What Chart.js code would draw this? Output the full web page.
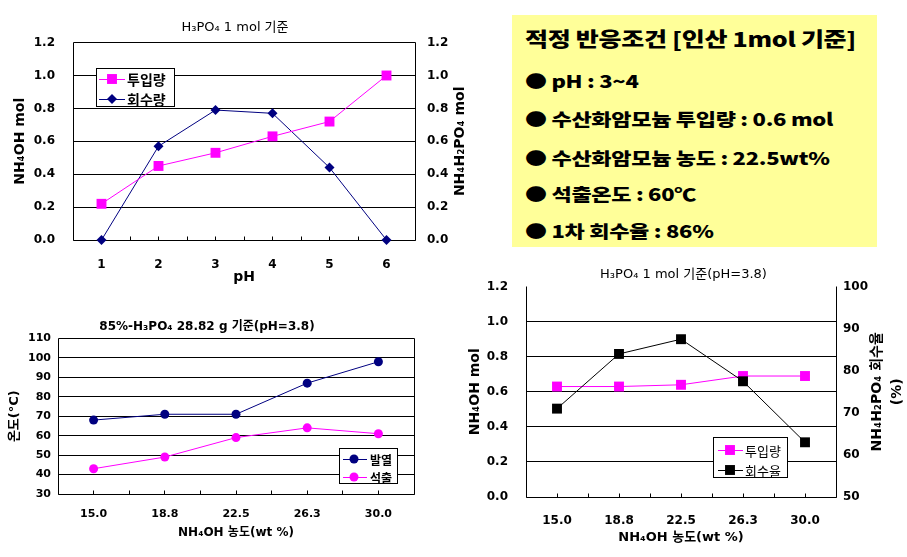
<!DOCTYPE html>
<html>
<head>
<meta charset="utf-8">
<script src="https://cdn.jsdelivr.net/npm/chart.js@4/dist/chart.umd.min.js"></script>
<style>
  body { margin: 0; background: #fff; width: 907px; height: 557px; position: relative; overflow: hidden; }
  canvas { position: absolute; }
  #box { position: absolute; left: 512px; top: 15px; width: 365px; height: 232px; background: #ffff99;
         font-family: 'Noto Sans CJK KR', sans-serif; font-weight: 900; color: #000; }
  #box div { position: absolute; left: 13px; height: 30px; line-height: 30px; white-space: nowrap; font-size: 22px;
             letter-spacing: -0.3px; transform: scaleY(0.8); transform-origin: left center; }
  #box .head { font-size: 25px; }
</style>
</head>
<body>
<canvas id="c1" width="470" height="290" style="left:0;top:0"></canvas>
<canvas id="c3" width="450" height="267" style="left:0;top:290px"></canvas>
<canvas id="c4" width="447" height="297" style="left:460px;top:260px"></canvas>
<div id="box">
  <div class="head" style="top:8px">적정 반응조건 [인산 1mol 기준]</div>
  <div style="top:50px">● pH : 3~4</div>
  <div style="top:88px">● 수산화암모늄 투입량 : 0.6 mol</div>
  <div style="top:127px">● 수산화암모늄 농도 : 22.5wt%</div>
  <div style="top:163px">● 석출온도 : 60℃</div>
  <div style="top:200px">● 1차 회수율 : 86%</div>
</div>
<script>
// chart 1: pH
const phLabels = ['1', '2', '3', '4', '5', '6']
const phInput = [0.22, 0.45, 0.53, 0.63, 0.72, 1.0]
const phRecovered = [0, 0.57, 0.79, 0.77, 0.44, 0]

// chart 3 + 4: NH4OH concentration
const concLabels = ['15.0', '18.8', '22.5', '26.3', '30.0']
const heatTemp = [68, 71, 71, 87, 98]
const precipTemp = [43, 49, 59, 64, 61]
const concInput = [0.63, 0.63, 0.64, 0.69, 0.69]
const recoveryRate = [71, 84, 87.5, 77.5, 63]

const FF = "'DejaVu Sans', 'Noto Sans CJK KR', sans-serif"
const KF = "'Noto Sans CJK KR', sans-serif"
const f = (size, bold) => ({ family: FF, size, weight: bold ? 'bold' : 'normal', lineHeight: 1.2 })
const align = p => Math.round(p - 0.5) + 0.5

function innerGrid(c) {
  return c.index > 0 && c.index < c.scale.ticks.length - 1 ? '#000' : 'rgba(0,0,0,0)'
}

function marker(ctx, style, x, y, r, color) {
  ctx.fillStyle = color
  ctx.beginPath()
  if (style === 'rect') {
    const s = r * Math.SQRT1_2
    ctx.rect(x - s, y - s, 2 * s, 2 * s)
  } else if (style === 'rectRot') {
    ctx.moveTo(x, y - r)
    ctx.lineTo(x + r, y)
    ctx.lineTo(x, y + r)
    ctx.lineTo(x - r, y)
    ctx.closePath()
  } else {
    ctx.arc(x, y, r, 0, Math.PI * 2)
  }
  ctx.fill()
}

const framePlugin = {
  id: 'frame',
  beforeDatasetsDraw(chart, args, opts) {
    const { ctx, chartArea: a } = chart
    const l = align(a.left), r = align(a.right), t = align(a.top), b = align(a.bottom)
    ctx.save()
    ctx.strokeStyle = '#000'
    ctx.lineWidth = 1
    ctx.beginPath()
    if (opts.sides.includes('left')) { ctx.moveTo(l, t); ctx.lineTo(l, b) }
    if (opts.sides.includes('right')) { ctx.moveTo(r, t); ctx.lineTo(r, b) }
    if (opts.sides.includes('top')) { ctx.moveTo(l, t); ctx.lineTo(r, t) }
    if (opts.sides.includes('bottom')) { ctx.moveTo(l, b); ctx.lineTo(r, b) }
    // small inward ticks on the category axis, at categories and between them
    const xs = chart.scales.x
    const n = xs.ticks.length
    for (let i = 0; i <= 2 * n; i++) {
      const x = align(a.left + (a.right - a.left) * i / (2 * n))
      ctx.moveTo(x, b)
      ctx.lineTo(x, b - 4)
    }
    ctx.stroke()
    ctx.restore()
  }
}

const legendPlugin = {
  id: 'boxLegend',
  afterDraw(chart, args, o) {
    const ctx = chart.ctx
    ctx.save()
    ctx.fillStyle = '#fff'
    ctx.fillRect(o.x, o.y, o.w, o.h)
    ctx.strokeStyle = '#000'
    ctx.lineWidth = 1
    ctx.strokeRect(o.x + 0.5, o.y + 0.5, o.w - 1, o.h - 1)
    chart.data.datasets.forEach((ds, i) => {
      const y = o.rows[i]
      ctx.strokeStyle = ds.borderColor
      ctx.beginPath()
      ctx.moveTo(o.lineX[0], y + 0.5)
      ctx.lineTo(o.lineX[1], y + 0.5)
      ctx.stroke()
      marker(ctx, ds.pointStyle, o.markerX, y, ds.pointRadius, ds.backgroundColor)
      ctx.fillStyle = '#000'
      ctx.font = o.font
      ctx.textAlign = 'left'
      ctx.textBaseline = 'middle'
      ctx.fillText(ds.label, o.textX, y + 1)
    })
    ctx.restore()
  }
}

const sideTitlePlugin = {
  id: 'sideTitle',
  afterDraw(chart, args, o) {
    const { ctx, chartArea: a } = chart
    const cy = (a.top + a.bottom) / 2
    ctx.save()
    ctx.fillStyle = '#000'
    ctx.font = o.font
    ctx.textAlign = 'center'
    ctx.textBaseline = 'middle'
    o.lines.forEach((t, i) => {
      ctx.save()
      ctx.translate(o.x[i], cy)
      ctx.rotate(-Math.PI / 2)
      ctx.fillText(t, 0, 0)
      ctx.restore()
    })
    ctx.restore()
  }
}

const base = { responsive: false, animation: false, devicePixelRatio: 1, layout: { padding: 0 } }

function xAxis(height, tickFont, tickPad, title, titleFont, titlePad) {
  return {
    offset: true,
    grid: { display: false },
    border: { display: false },
    ticks: { color: '#000', font: tickFont, padding: tickPad, maxRotation: 0 },
    title: { display: true, text: title, color: '#000', font: titleFont, padding: { top: 0, bottom: titlePad } },
    afterFit: s => { s.height = height }
  }
}

function yAxis(pos, width, min, max, step, digits, tickFont, tickPad, grid, title) {
  const ax = {
    position: pos, min, max,
    ticks: { stepSize: step, color: '#000', font: tickFont, padding: tickPad, callback: v => v.toFixed(digits) },
    grid: grid ? { color: innerGrid, lineWidth: 1, drawTicks: false } : { drawOnChartArea: false, drawTicks: false },
    border: { display: false },
    afterFit: s => { s.width = width }
  }
  if (title) ax.title = title
  return ax
}

// chart 1
new Chart(document.getElementById('c1'), {
  type: 'line',
  data: {
    labels: phLabels,
    datasets: [
      { label: '투입량', data: phInput, borderColor: '#ff00ff', backgroundColor: '#ff00ff', borderWidth: 1,
        pointStyle: 'rect', pointRadius: 7, pointBorderWidth: 0, clip: false, yAxisID: 'y' },
      { label: '회수량', data: phRecovered, borderColor: '#000080', backgroundColor: '#000080', borderWidth: 1,
        pointStyle: 'rectRot', pointRadius: 5, pointBorderWidth: 0, clip: false, yAxisID: 'y' }
    ]
  },
  options: {
    ...base,
    scales: {
      x: xAxis(50, f(12, true), 10, 'pH', f(14, true), 4),
      y: yAxis('left', 73, 0, 1.2, 0.2, 1, f(12, true), 18, true,
        { display: true, text: 'NH₄OH mol', color: '#000', font: f(14, true), padding: { top: 12, bottom: 0 } }),
      y2: yAxis('right', 55, 0, 1.2, 0.2, 1, f(12, true), 12, false)
    },
    plugins: {
      legend: { display: false },
      tooltip: { enabled: false },
      title: { display: true, text: 'H₃PO₄ 1 mol 기준', color: '#000', font: f(13, false), padding: { top: 20, bottom: 7 } },
      frame: { sides: ['left', 'right', 'top', 'bottom'] },
      boxLegend: { x: 96, y: 68, w: 79, h: 39, rows: [79, 99], lineX: [99, 125], markerX: 112, textX: 127,
        font: 'bold 14px ' + KF },
      sideTitle: { lines: ['NH₄H₂PO₄ mol'], x: [460], font: 'bold 14px ' + FF }
    }
  },
  plugins: [framePlugin, legendPlugin, sideTitlePlugin]
})

// chart 3
new Chart(document.getElementById('c3'), {
  type: 'line',
  data: {
    labels: concLabels,
    datasets: [
      { label: '발열', data: heatTemp, borderColor: '#000080', backgroundColor: '#000080', borderWidth: 1,
        pointStyle: 'circle', pointRadius: 4.5, pointBorderWidth: 0, clip: false },
      { label: '석출', data: precipTemp, borderColor: '#ff00ff', backgroundColor: '#ff00ff', borderWidth: 1,
        pointStyle: 'circle', pointRadius: 4.5, pointBorderWidth: 0, clip: false }
    ]
  },
  options: {
    ...base,
    layout: { padding: { right: 36 } },
    scales: {
      x: xAxis(63, f(11, true), 6, 'NH₄OH 농도(wt %)', f(12, true), 17),
      y: yAxis('left', 58, 30, 110, 10, 0, f(11, true), 7, true,
        { display: true, text: '온도(°C)', color: '#000', font: f(13, true), padding: { top: 7, bottom: 0 } })
    },
    plugins: {
      legend: { display: false },
      tooltip: { enabled: false },
      title: { display: true, text: '85%-H₃PO₄ 28.82 g 기준(pH=3.8)', color: '#000', font: f(12, true), padding: { top: 30, bottom: 4 } },
      frame: { sides: ['left', 'right', 'top', 'bottom'] },
      boxLegend: { x: 339, y: 158, w: 59, h: 36, rows: [169, 187], lineX: [343, 367], markerX: 354, textX: 370,
        font: 'bold 12px ' + KF }
    }
  },
  plugins: [framePlugin, legendPlugin]
})

// chart 4
new Chart(document.getElementById('c4'), {
  type: 'line',
  data: {
    labels: concLabels,
    datasets: [
      { label: '투입량', data: concInput, borderColor: '#ff00ff', backgroundColor: '#ff00ff', borderWidth: 1,
        pointStyle: 'rect', pointRadius: 7, pointBorderWidth: 0, clip: false, yAxisID: 'y', order: 1 },
      { label: '회수율', data: recoveryRate, borderColor: '#000', backgroundColor: '#000', borderWidth: 1,
        pointStyle: 'rect', pointRadius: 7, pointBorderWidth: 0, clip: false, yAxisID: 'y2', order: 0 }
    ]
  },
  options: {
    ...base,
    scales: {
      x: xAxis(60, f(12, true), 9, 'NH₄OH 농도(wt %)', f(13, true), 12),
      y: yAxis('left', 66, 0, 1.2, 0.2, 1, f(12, true), 18, true,
        { display: true, text: 'NH₄OH mol', color: '#000', font: f(14, true), padding: { top: 7, bottom: 0 } }),
      y2: yAxis('right', 71, 50, 100, 10, 0, f(12, true), 7, false)
    },
    plugins: {
      legend: { display: false },
      tooltip: { enabled: false },
      title: { display: true, text: 'H₃PO₄ 1 mol 기준(pH=3.8)', color: '#000', font: f(13, false), padding: { top: 7, bottom: 4 } },
      frame: { sides: ['left', 'right', 'bottom'] },
      boxLegend: { x: 253, y: 177, w: 75, h: 41, rows: [190, 210], lineX: [258, 283], markerX: 270, textX: 285,
        font: '13px ' + KF },
      sideTitle: { lines: ['NH₄H₂PO₄ 회수율', '(%)'], x: [417, 437], font: 'bold 14px ' + FF }
    }
  },
  plugins: [framePlugin, legendPlugin, sideTitlePlugin]
})
</script>
</body>
</html>
